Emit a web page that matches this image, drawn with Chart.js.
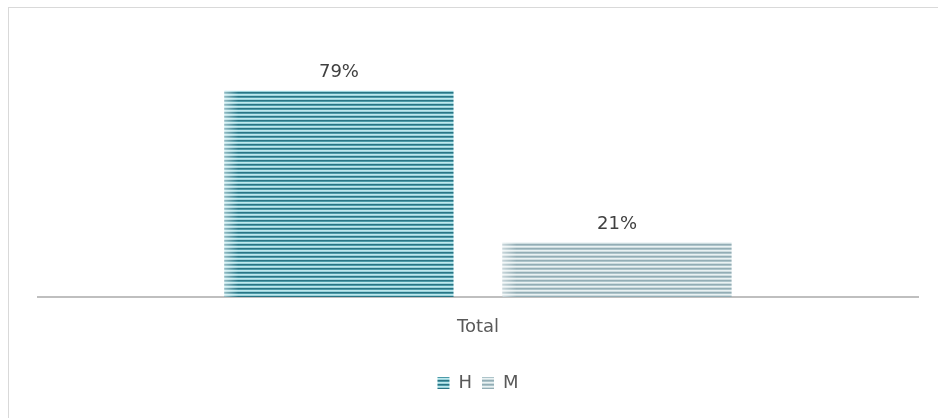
<!DOCTYPE html>
<html>
<head>
<meta charset="utf-8">
<script src="https://cdn.jsdelivr.net/npm/chart.js@4"></script>
<style>
  html, body { margin: 0; padding: 0; background: #ffffff; }
  #wrap { position: relative; width: 938px; height: 418px; overflow: hidden; }
  #frame { position: absolute; left: 8px; top: 7px; width: 940px; height: 430px; border: 1px solid #d9d9d9; box-sizing: border-box; }
  canvas { position: absolute; left: 0; top: 0; }
</style>
</head>
<body>
<div id="wrap">
  <div id="frame"></div>
  <canvas id="c" width="938" height="418"></canvas>
</div>
<script>
const categories = ["Total"];
const seriesNames = ["H", "M"];
const valuesH = [79];
const valuesM = [21];

function stripePattern(rows) {
  const c = document.createElement('canvas');
  c.width = 4; c.height = rows.length;
  const x = c.getContext('2d');
  rows.forEach((col, i) => { x.fillStyle = col; x.fillRect(0, i, 4, 1); });
  return x.createPattern(c, 'repeat');
}
const patH = stripePattern(['#2a7484', '#4c9ba9', '#c0e8ed', '#9ad3db']);
const patM = stripePattern(['#93adb5', '#adc4ca', '#eaf2f3', '#cddcdf']);

const FONT = "'DejaVu Sans', sans-serif";

const labelPlugin = {
  id: 'valueLabels',
  afterDatasetsDraw(chart) {
    const ctx = chart.ctx;
    chart.data.datasets.forEach((ds, di) => {
      const meta = chart.getDatasetMeta(di);
      meta.data.forEach((bar, i) => {
        const w = bar.width;
        const left = bar.x - w / 2;
        const g = ctx.createLinearGradient(left, 0, left + 14, 0);
        g.addColorStop(0, 'rgba(255,255,255,0.5)');
        g.addColorStop(1, 'rgba(255,255,255,0)');
        ctx.save();
        ctx.fillStyle = g;
        ctx.fillRect(left, bar.y, 14, bar.base - bar.y);
        ctx.restore();
        ctx.save();
        ctx.font = "18px " + FONT;
        ctx.fillStyle = '#404040';
        ctx.textAlign = 'center';
        ctx.textBaseline = 'middle';
        ctx.fillText(ds.data[i] + '%', bar.x, bar.y - 18);
        ctx.restore();
      });
    });
  }
};

new Chart(document.getElementById('c'), {
  type: 'bar',
  data: {
    labels: categories,
    datasets: [
      { label: seriesNames[0], data: valuesH, backgroundColor: patH, borderWidth: 0 },
      { label: seriesNames[1], data: valuesM, backgroundColor: patM, borderWidth: 0 }
    ]
  },
  options: {
    responsive: false,
    animation: false,
    devicePixelRatio: 1,
    barPercentage: 0.824,
    categoryPercentage: 0.632,
    layout: { padding: { left: 38, right: 20, top: 36, bottom: 16 } },
    plugins: {
      tooltip: { enabled: false },
      legend: {
        position: 'bottom',
        labels: {
          boxWidth: 12, boxHeight: 12,
          color: '#595959',
          font: { family: FONT, size: 18 },
          padding: 10
        }
      }
    },
    scales: {
      x: {
        grid: { display: false, drawTicks: false },
        border: { display: true, color: '#bfbfbf', width: 2 },
        ticks: { color: '#595959', font: { family: FONT, size: 18 }, padding: 20 },
        afterFit(s) { s.height = 67; }
      },
      y: { display: false, min: 0, max: 100 }
    }
  },
  plugins: [labelPlugin]
});
</script>
</body>
</html>
